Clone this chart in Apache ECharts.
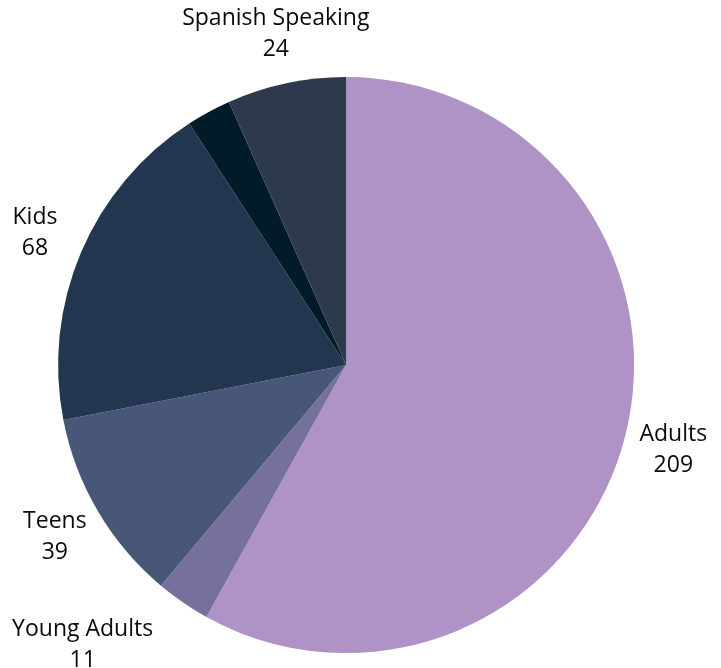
<!DOCTYPE html>
<html>
<head>
<meta charset="utf-8">
<script src="https://cdn.jsdelivr.net/npm/echarts@6/dist/echarts.min.js"></script>
<style>
html,body{margin:0;padding:0;background:#fff;}
#chart{width:721px;height:668px;}
</style>
</head>
<body>
<div id="chart"></div>
<script>
const categories = ["Adults", "Young Adults", "Teens", "Kids", "Other", "Spanish Speaking"];
const values = [209, 11, 39, 68, 9, 24];
const showLabel = [true, true, true, true, false, true];
const colors = ["#AF92C6", "#76719C", "#485677", "#22374F", "#021B29", "#2D3A4E"];

const chart = echarts.init(document.getElementById('chart'));
const center = ['48%', '54.65%'];

const sliceData = categories.map((c, i) => ({ name: c, value: values[i], itemStyle: { color: colors[i] } }));
const labelData = categories.map((c, i) => {
  const item = { name: c, value: values[i], label: { show: showLabel[i] } };
  if (c === 'Young Adults') item.label.offset = [-72, 1];
  return item;
});

chart.setOption({
  backgroundColor: '#ffffff',
  animation: false,
  series: [
    {
      type: 'pie',
      center: center,
      radius: [0, 288],
      startAngle: 90,
      clockwise: true,
      silent: true,
      label: { show: false },
      labelLine: { show: false },
      itemStyle: { borderWidth: 0 },
      data: sliceData
    },
    {
      type: 'pie',
      center: center,
      radius: [310, 360],
      startAngle: 90,
      clockwise: true,
      silent: true,
      itemStyle: { color: 'rgba(0,0,0,0)', borderWidth: 0 },
      labelLine: { show: false },
      label: {
        position: 'inside',
        formatter: '{b}\n{c}',
        fontFamily: 'Open Sans',
        fontSize: 23,
        lineHeight: 31,
        color: '#0a0a0a',
        align: 'center'
      },
      data: labelData
    }
  ]
});
</script>
</body>
</html>
